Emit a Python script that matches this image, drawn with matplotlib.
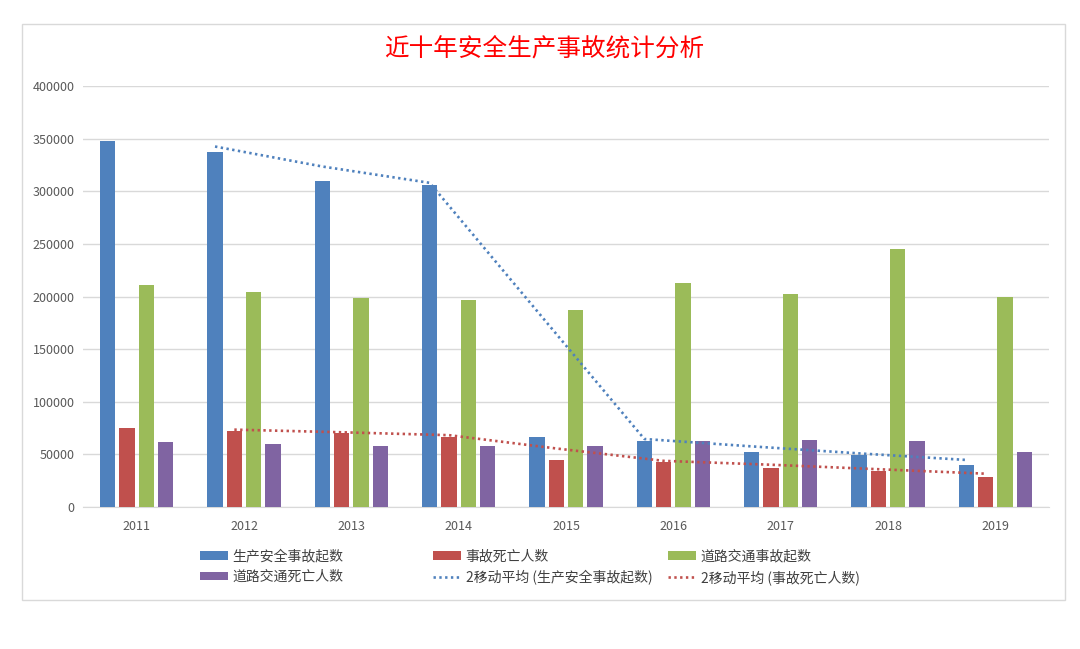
import matplotlib
matplotlib.use("Agg")
import matplotlib.pyplot as plt
import numpy as np
import pandas as pd
from matplotlib.patches import Rectangle, Patch
from matplotlib.lines import Line2D

plt.rcParams['font.family'] = ['Noto Sans CJK SC', 'DejaVu Sans']

years = ['2011', '2012', '2013', '2014', '2015', '2016', '2017', '2018', '2019']
safety_accidents = [348000, 337000, 310000, 306000, 66500, 62700, 52500, 49400, 40000]
accident_deaths = [75000, 72000, 70000, 66500, 44700, 43000, 37300, 34500, 28800]
road_accidents = [211000, 204000, 198600, 196700, 187500, 212500, 202700, 245000, 199500]
road_deaths = [61800, 60000, 58000, 58000, 58000, 62700, 63300, 62700, 52000]

series_names = ['生产安全事故起数', '事故死亡人数', '道路交通事故起数', '道路交通死亡人数']
ma_names = ['2移动平均 (生产安全事故起数)', '2移动平均 (事故死亡人数)']
title = '近十年安全生产事故统计分析'
yticks = [0, 50000, 100000, 150000, 200000, 250000, 300000, 350000, 400000]

colors = ['#4f81bd', '#c0504d', '#9bbb59', '#8064a2']

fig = plt.figure(figsize=(10.8, 6.49), dpi=100)
fig.patch.set_facecolor('white')

# outer border
fig.add_artist(Rectangle((22 / 1080, 1 - 600 / 649), (1065 - 22) / 1080, (600 - 24) / 649,
                         transform=fig.transFigure, fill=False, edgecolor='#d9d9d9', linewidth=1))

ax = fig.add_axes([83 / 1080, 1 - 507 / 649, (1049 - 83) / 1080, (507 - 86) / 649])
x = np.arange(len(years))
bw = 0.145
step = 0.18
data = [safety_accidents, accident_deaths, road_accidents, road_deaths]
for i, (vals, c) in enumerate(zip(data, colors)):
    ax.bar(x + (i - 1.5) * step, vals, width=bw, color=c, zorder=3)

ma1 = pd.Series(safety_accidents).rolling(2).mean()
ma2 = pd.Series(accident_deaths).rolling(2).mean()
dots = (0, (0.9, 1.3))
ax.plot(x[1:] - 1.5 * step, ma1[1:], linestyle=dots, color='#4f81bd', linewidth=1.9, zorder=4)
ax.plot(x[1:] - 0.5 * step, ma2[1:], linestyle=dots, color='#c0504d', linewidth=1.9, zorder=4)

ax.set_xlim(-0.5, len(years) - 0.5)
ax.set_ylim(0, 400000)
ax.set_yticks(yticks)
ax.set_yticklabels([str(v) for v in yticks])
ax.set_xticks(x)
ax.set_xticklabels(years)
ax.grid(axis='y', color='#d9d9d9', linewidth=1, zorder=0)
for s in ['top', 'right', 'left']:
    ax.spines[s].set_visible(False)
ax.spines['bottom'].set_color('#d9d9d9')
ax.tick_params(axis='both', length=0, labelsize=9, colors='#595959')
ax.tick_params(axis='x', pad=9)
ax.tick_params(axis='y', pad=6)

fig.text(544 / 1080, 1 - 49 / 649, title, color='#ff0000', fontsize=17.7, ha='center', va='center')

# legend
def patch(c):
    return Patch(facecolor=c, edgecolor='none')

def dline(c):
    return Line2D([0], [0], color=c, linestyle=dots, linewidth=1.9)

cols = [
    ([patch(colors[0]), patch(colors[3])], [series_names[0], series_names[3]], 200),
    ([patch(colors[1]), dline('#4f81bd')], [series_names[1], ma_names[0]], 433),
    ([patch(colors[2]), dline('#c0504d')], [series_names[2], ma_names[1]], 668),
]
for handles, labels, px in cols:
    fig.legend(handles, labels, loc='upper left',
               bbox_to_anchor=(px / 1080, 1 - 549 / 649), frameon=False,
               fontsize=10, handlelength=2.0, handleheight=0.6,
               handletextpad=0.35, labelspacing=0.5, borderpad=0, borderaxespad=0,
               labelcolor='#404040')

fig.savefig('out.png', dpi=100, facecolor='white')
